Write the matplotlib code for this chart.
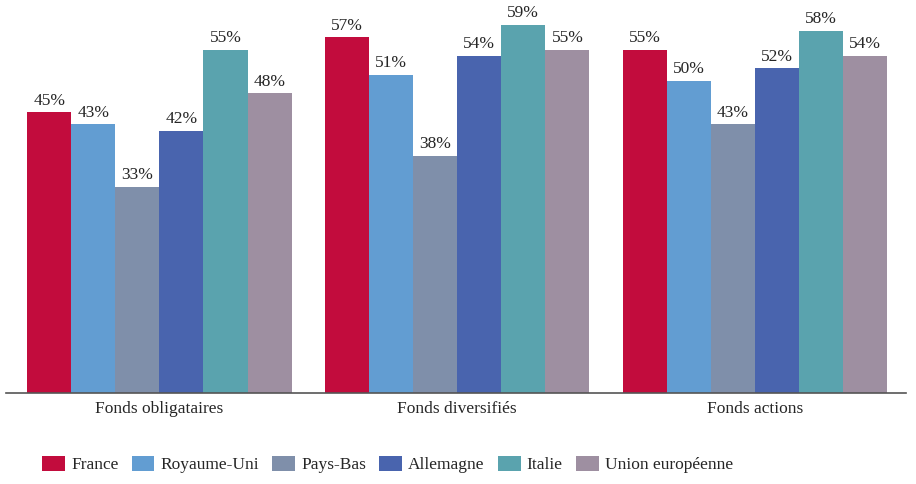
import numpy as np
import matplotlib
matplotlib.use("Agg")
import matplotlib.pyplot as plt

plt.rcParams['font.family'] = ['Liberation Serif', 'DejaVu Serif']

categories = ['Fonds obligataires', 'Fonds diversifiés', 'Fonds actions']
countries = ['France', 'Royaume-Uni', 'Pays-Bas', 'Allemagne', 'Italie', 'Union européenne']
france = [45, 57, 55]
royaume_uni = [43, 51, 50]
pays_bas = [33, 38, 43]
allemagne = [42, 54, 52]
italie = [55, 59, 58]
union_eur = [48, 55, 54]
series = [france, royaume_uni, pays_bas, allemagne, italie, union_eur]
colors = ['#C20C3D', '#629DD2', '#7F8FAA', '#4964AE', '#5AA3AE', '#9E8FA1']

fig = plt.figure(figsize=(9.16, 4.84), dpi=100)
ax = fig.add_axes([0.0066, 0.188, 0.9825, 0.8])

x = np.arange(len(categories))
w = 0.148
for i, (vals, c, name) in enumerate(zip(series, colors, countries)):
    pos = x + (i - 2.5) * w
    bars = ax.bar(pos, vals, width=w, color=c, label=name, linewidth=0)
    for b, v in zip(bars, vals):
        ax.annotate(f'{v}%', (b.get_x() + b.get_width() / 2, v), xytext=(0, 2.5),
                    textcoords='offset points', ha='center', va='bottom',
                    fontsize=12.5, color='#262626')

ax.set_xlim(-0.515, 2.507)
ax.set_ylim(0, 62)
ax.set_xticks(x)
ax.set_xticklabels(categories, fontsize=12.5, color='#262626')
ax.tick_params(axis='x', length=0, pad=6)
ax.set_yticks([])
for s in ['top', 'right', 'left']:
    ax.spines[s].set_visible(False)
ax.spines['bottom'].set_color('#555555')
ax.spines['bottom'].set_linewidth(1.2)

fig.legend(loc='lower left', bbox_to_anchor=(0.029, -0.01), ncol=6, frameon=False,
           fontsize=12.5, handlelength=1.32, handleheight=0.92, handletextpad=0.35,
           columnspacing=0.75, labelcolor='#262626')

fig.savefig('out.png', dpi=100)
